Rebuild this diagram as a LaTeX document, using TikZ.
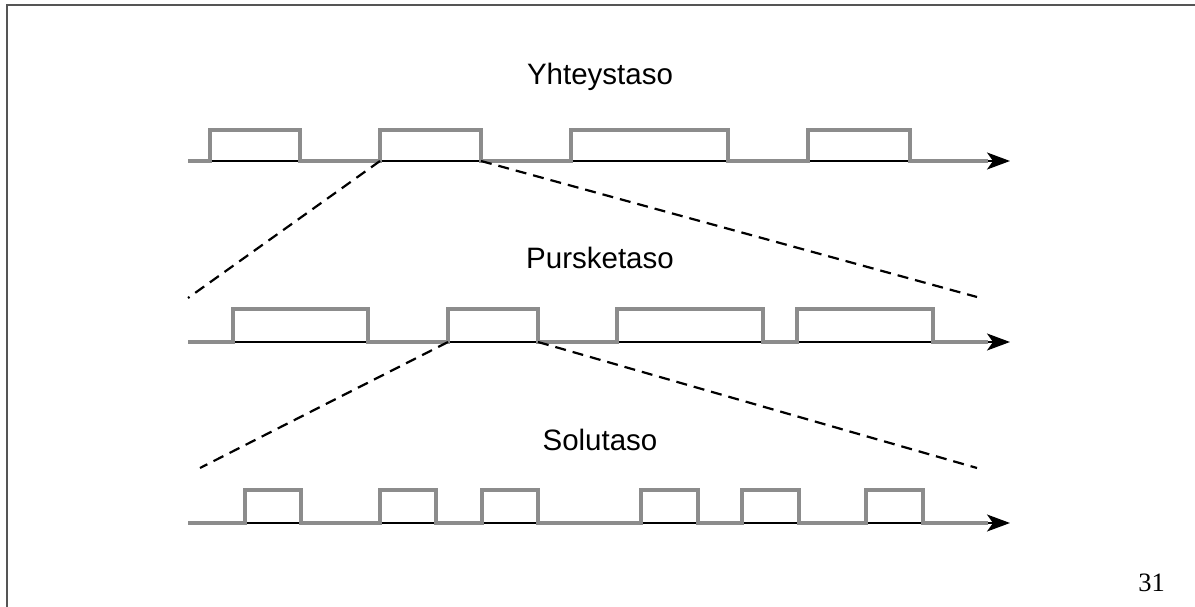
\documentclass[tikz,border=0pt]{standalone}
\usepackage{fontspec}
\setmainfont{Liberation Serif}
\newfontfamily\labelfont{Liberation Sans}
\usetikzlibrary{arrows.meta}
\definecolor{tracegray}{HTML}{8C8C8C}
\definecolor{framegray}{HTML}{555555}
\tikzset{
  axisline/.style={black, line width=1.6pt, -{Stealth[length=23pt,width=17pt,inset=6pt]}},
  trace/.style={tracegray, line width=3.6pt, line join=miter},
  zoomline/.style={black, line width=2.2pt, dash pattern=on 11pt off 7pt},
  levellabel/.style={font=\labelfont\fontsize{29.5}{33}\selectfont, anchor=base},
  pagenum/.style={font=\fontsize{26.5}{30}\selectfont, anchor=base east, inner sep=0pt},
  framel/.style={framegray, line width=1.8pt}
}
\begin{document}
\begin{tikzpicture}[x=1pt,y=-1pt]
\useasboundingbox (0,0) rectangle (1195,607);
% frame
\coordinate (fbl) at (7,607);
\coordinate (ftl) at (7,5);
\coordinate (ftr) at (1195,5);
\draw[framel] (fbl) -- (ftl) -- (ftr);

% labels
\node[levellabel] (l1) at (600,85) {Yhteystaso};
\node[levellabel] (l2) at (600,268) {Pursketaso};
\node[levellabel] (l3) at (600,450) {Solutaso};
\node[pagenum] (pn) at (1165,591) {31};

% axes
\coordinate (a1s) at (188,161); \coordinate (a1e) at (1010,161);
\coordinate (a2s) at (188,342); \coordinate (a2e) at (1010,342);
\coordinate (a3s) at (188,523); \coordinate (a3e) at (1010,523);
\draw[axisline] (a1s) -- (a1e);
\draw[axisline] (a2s) -- (a2e);
\draw[axisline] (a3s) -- (a3e);

% pulse trains
\draw[trace] (a1s) -| (210,130) -| (300,161) -| (380,130) -| (481,161) -| (571,130) -| (728,161) -| (808,130) -| (910,161) -- (988,161);
\draw[trace] (a2s) -| (233,309) -| (368,342) -| (448,309) -| (538,342) -| (617,309) -| (763,342) -| (797,309) -| (933,342) -- (988,342);
\draw[trace] (a3s) -| (245,490) -| (301,523) -| (380,490) -| (436,523) -| (482,490) -| (538,523) -| (641,490) -| (698,523) -| (742,490) -| (799,523) -| (866,490) -| (923,523) -- (988,523);

% zoom lines
\coordinate (z1a) at (380,161); \coordinate (z1b) at (481,161);
\coordinate (z1c) at (188,298); \coordinate (z1d) at (977,297);
\coordinate (z2a) at (448,342); \coordinate (z2b) at (538,342);
\coordinate (z2c) at (200,468); \coordinate (z2d) at (977,468);
\draw[zoomline] (z1a) -- (z1c);
\draw[zoomline] (z1b) -- (z1d);
\draw[zoomline] (z2a) -- (z2c);
\draw[zoomline] (z2b) -- (z2d);
\end{tikzpicture}
\end{document}
